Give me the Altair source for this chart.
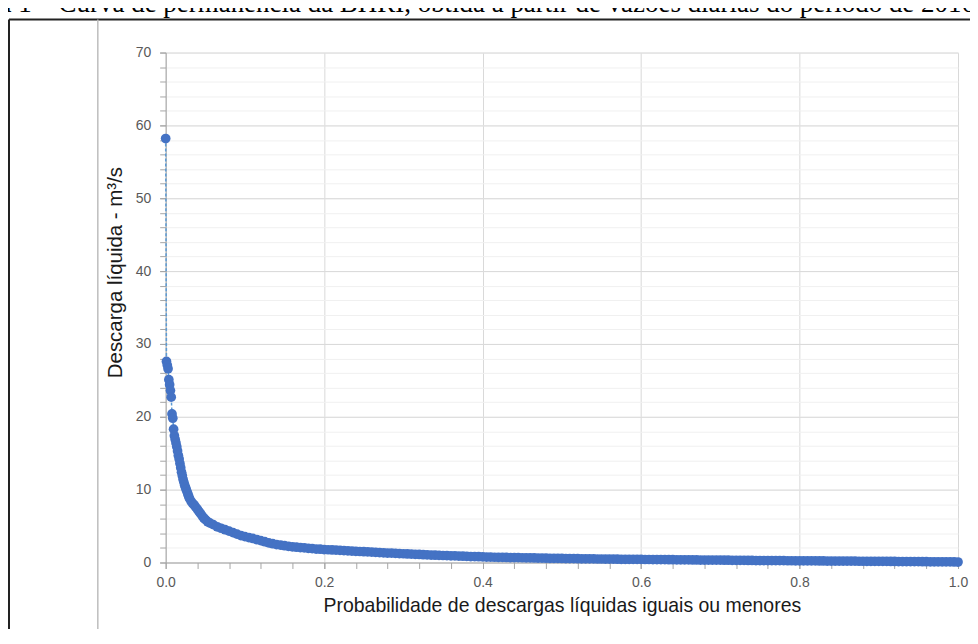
import altair as alt
import pandas as pd

# ---- data (flow-duration curve) ----
prob = [0.000, 0.001, 0.002, 0.003, 0.004, 0.005, 0.006, 0.007, 0.008, 0.009,
        0.010, 0.011, 0.012, 0.013, 0.014, 0.015, 0.016, 0.017, 0.018, 0.019,
        0.020, 0.021, 0.022, 0.023, 0.024, 0.025, 0.026, 0.027, 0.028, 0.029,
        0.030, 0.032, 0.034, 0.036, 0.038, 0.040, 0.042, 0.044, 0.046, 0.048,
        0.050, 0.053, 0.056, 0.060, 0.065, 0.070, 0.075, 0.080, 0.085, 0.090,
        0.095, 0.100, 0.105, 0.110, 0.115, 0.120, 0.125, 0.130, 0.135, 0.140,
        0.145, 0.150, 0.155, 0.160, 0.165, 0.170, 0.175, 0.180, 0.185, 0.190,
        0.195, 0.200, 0.205, 0.21, 0.215, 0.22, 0.225, 0.23, 0.235, 0.24, 0.245,
        0.25, 0.255, 0.26, 0.265, 0.27, 0.275, 0.28, 0.285, 0.29, 0.295,
        0.30, 0.305, 0.31, 0.315, 0.32, 0.325, 0.33, 0.335, 0.34, 0.345,
        0.35, 0.355, 0.36, 0.365, 0.37, 0.375, 0.38, 0.385, 0.39, 0.395,
        0.40, 0.41, 0.42, 0.43, 0.44, 0.45, 0.46, 0.47, 0.48, 0.49,
        0.50, 0.51, 0.52, 0.53, 0.54, 0.55, 0.56, 0.57, 0.58, 0.59,
        0.60, 0.61, 0.62, 0.63, 0.64, 0.65, 0.66, 0.67, 0.68, 0.69,
        0.70, 0.71, 0.72, 0.73, 0.74, 0.75, 0.76, 0.77, 0.78, 0.79,
        0.80, 0.81, 0.82, 0.83, 0.84, 0.85, 0.86, 0.87, 0.88, 0.89,
        0.90, 0.91, 0.92, 0.93, 0.94, 0.95, 0.96, 0.97, 0.98, 0.99, 1.00,
        0.405, 0.415, 0.425, 0.435, 0.445, 0.455, 0.465, 0.475, 0.485, 0.495,
        0.505, 0.515, 0.525, 0.535, 0.545, 0.555, 0.565, 0.575, 0.585, 0.595,
        0.605, 0.615, 0.625, 0.635, 0.645, 0.655, 0.665, 0.675, 0.685, 0.695,
        0.705, 0.715, 0.725, 0.735, 0.745, 0.755, 0.765, 0.775, 0.785, 0.795,
        0.805, 0.815, 0.825, 0.835, 0.845, 0.855, 0.865, 0.875, 0.885, 0.895,
        0.905, 0.915, 0.925, 0.935, 0.945, 0.955, 0.965, 0.975, 0.985, 0.995]

vazao = [58.2, 27.6, 27.1, 26.6, 25.1, 24.4, 23.6, 22.7, 20.4, 19.8,
         18.3, 17.4, 16.9, 16.4, 15.9, 15.3, 14.7, 14.2, 13.6, 13.0,
         12.4, 11.9, 11.4, 11.0, 10.6, 10.3, 10.0, 9.7, 9.4, 9.1,
         8.8, 8.4, 8.1, 7.9, 7.6, 7.3, 7.0, 6.7, 6.4, 6.1,
         5.9, 5.6, 5.4, 5.2, 4.9, 4.7, 4.5, 4.3, 4.1, 3.9,
         3.7, 3.55, 3.42, 3.3, 3.15, 3.0, 2.85, 2.7, 2.58, 2.45,
         2.38, 2.3, 2.22, 2.15, 2.10, 2.05, 2.0, 1.95, 1.90, 1.85,
         1.82, 1.78, 1.75, 1.72, 1.69, 1.66, 1.63, 1.60, 1.57, 1.54, 1.51,
         1.48, 1.45, 1.42, 1.39, 1.36, 1.33, 1.30, 1.28, 1.25, 1.22,
         1.20, 1.17, 1.15, 1.12, 1.10, 1.07, 1.05, 1.02, 1.00, 0.98,
         0.96, 0.94, 0.92, 0.90, 0.88, 0.86, 0.84, 0.82, 0.80, 0.79,
         0.77, 0.74, 0.71, 0.69, 0.67, 0.65, 0.63, 0.61, 0.59, 0.57,
         0.55, 0.54, 0.52, 0.51, 0.49, 0.48, 0.47, 0.45, 0.44, 0.43,
         0.42, 0.41, 0.40, 0.39, 0.38, 0.37, 0.36, 0.35, 0.34, 0.33,
         0.32, 0.31, 0.30, 0.29, 0.28, 0.27, 0.27, 0.26, 0.25, 0.24,
         0.23, 0.22, 0.22, 0.21, 0.20, 0.19, 0.19, 0.18, 0.17, 0.16,
         0.16, 0.15, 0.14, 0.13, 0.13, 0.12, 0.11, 0.10, 0.09, 0.08, 0.06,
         0.75, 0.72, 0.70, 0.68, 0.66, 0.64, 0.62, 0.60, 0.58, 0.56,
         0.54, 0.53, 0.51, 0.50, 0.48, 0.47, 0.46, 0.44, 0.43, 0.42,
         0.41, 0.40, 0.39, 0.38, 0.37, 0.36, 0.35, 0.34, 0.33, 0.32,
         0.31, 0.30, 0.29, 0.28, 0.27, 0.27, 0.26, 0.25, 0.24, 0.23,
         0.22, 0.22, 0.21, 0.20, 0.19, 0.19, 0.18, 0.17, 0.16, 0.16,
         0.15, 0.14, 0.13, 0.13, 0.12, 0.11, 0.10, 0.09, 0.08, 0.07]

x_major = [0.0, 0.2, 0.4, 0.6, 0.8, 1.0]
x_minor = [0.0, 0.04, 0.08, 0.12, 0.16, 0.2, 0.24, 0.28, 0.32, 0.36, 0.4,
           0.44, 0.48, 0.52, 0.56, 0.6, 0.64, 0.68, 0.72, 0.76, 0.8,
           0.84, 0.88, 0.92, 0.96, 1.0]
y_major = [0, 10, 20, 30, 40, 50, 60, 70]
y_minor = [0, 2, 4, 6, 8, 10, 12, 14, 16, 18, 20, 22, 24, 26, 28, 30, 32, 34,
           36, 38, 40, 42, 44, 46, 48, 50, 52, 54, 56, 58, 60, 62, 64, 66, 68, 70]

x_title = "Probabilidade de descargas líquidas iguais ou menores"
y_title = "Descarga líquida - m³/s"
caption = "Figura 1 – Curva de permanência da BHRI, obtida a partir de vazões diárias do período de 2016"

df = pd.DataFrame({"prob": prob, "vazao": vazao}).sort_values("prob")

FONT = "Liberation Sans"
xs = alt.Scale(domain=[0, 1], nice=False, zero=False)
ys = alt.Scale(domain=[0, 70], nice=False)

# minor ticks + minor grid (line layer)
line = alt.Chart(df).mark_line(color="#5b9bd5", strokeWidth=1.5, strokeDash=[3, 2]).encode(
    x=alt.X("prob:Q", scale=xs, axis=alt.Axis(
        values=x_minor, labels=False, title=None, grid=False, domain=False,
        tickSize=6, tickColor="#a6a6a6", orient="bottom")),
    y=alt.Y("vazao:Q", scale=ys, axis=alt.Axis(
        values=y_minor, labels=False, title=None, grid=True, gridColor="#f0f0f0",
        domain=False, tickSize=6, tickColor="#a6a6a6", orient="left")),
    order="prob:Q",
)

# major axes + points
points = alt.Chart(df).mark_circle(color="#4472c4", size=95, opacity=1).encode(
    x=alt.X("prob:Q", scale=xs, axis=alt.Axis(
        values=x_major, format=".1f", title=x_title, orient="bottom",
        grid=True, gridColor="#d9d9d9", domainColor="#a6a6a6",
        tickSize=6, tickColor="#a6a6a6", labelFlush=False,
        labelColor="#595959", labelFontSize=14, labelFont=FONT, labelPadding=7,
        titleFont=FONT, titleFontSize=19.5, titleFontWeight="normal",
        titleColor="#1a1a1a", titleBaseline="alphabetic", titleY=49)),
    y=alt.Y("vazao:Q", scale=ys, axis=alt.Axis(
        values=y_major, title=y_title, orient="left",
        grid=True, gridColor="#d9d9d9", domainColor="#a6a6a6",
        tickSize=6, tickColor="#a6a6a6", labelFlush=False,
        labelColor="#595959", labelFontSize=14, labelFont=FONT, labelPadding=9,
        titleFont=FONT, titleFontSize=20.5, titleFontWeight="normal",
        titleColor="#1a1a1a", titleAngle=270, titleBaseline="alphabetic",
        titleAlign="center", titleX=-44, titleY=220)),
)

one = pd.DataFrame({"k": [0]})
outer_v = alt.Chart(one).mark_rule(color="#222222", strokeWidth=2).encode(
    x=alt.value(-157), y=alt.value(-33), y2=alt.value(700))
outer_h = alt.Chart(one).mark_rule(color="#222222", strokeWidth=2).encode(
    x=alt.value(-157), x2=alt.value(810), y=alt.value(-33))
inner_v = alt.Chart(one).mark_rule(color="#bdbdbd", strokeWidth=1.5).encode(
    x=alt.value(-68), y=alt.value(-33), y2=alt.value(580))
inner_h = alt.Chart(one).mark_rule(color="#bdbdbd", strokeWidth=1.5).encode(
    x=alt.value(-68), x2=alt.value(810), y=alt.value(580))

cap = alt.Chart(one).mark_text(
    text=caption, font="Liberation Serif", fontSize=27, align="left",
    baseline="alphabetic", color="#000000").encode(
    x=alt.value(-225), y=alt.value(-41))

chart = alt.layer(outer_v, outer_h, inner_v, inner_h, cap, line, points).resolve_axis(
    x="independent", y="independent"
).properties(
    width=794, height=511,
    padding={"left": 158, "top": 44, "right": 12, "bottom": 66},
    autosize=alt.AutoSizeParams(type="none"),
).configure_view(stroke=None)

chart.save("out.html", embed_options={"renderer": "svg", "actions": False})
